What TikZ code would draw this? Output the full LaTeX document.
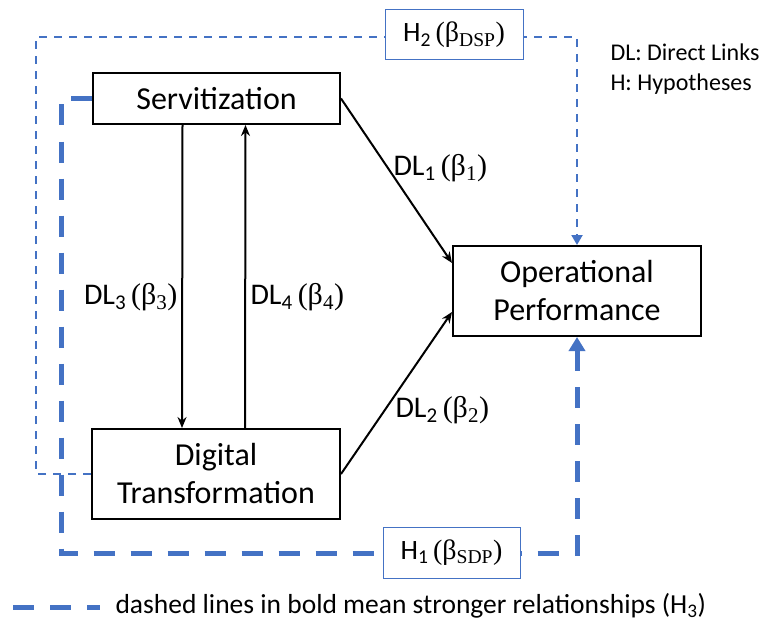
\documentclass[tikz,border=0pt]{standalone}
\usepackage{fontspec}
\setmainfont{Carlito}
\newfontfamily\grkfont{Liberation Serif}
\usetikzlibrary{arrows.meta}
\definecolor{hypblue}{RGB}{68,114,196}
\tikzset{box/.style={draw=black,line width=2pt,fill=white,align=center,
    font=\fontsize{32}{38}\selectfont},
  hbox/.style={draw=hypblue,line width=1pt,fill=white,
    font=\fontsize{28}{33}\selectfont},
  link/.style={-{Stealth[length=11pt,width=9pt]},line width=2pt},
  hyp/.style={draw=hypblue,line width=2pt,dash pattern=on 8pt off 7pt,
    -{Triangle[length=10pt,width=11pt]}},
  hypbold/.style={draw=hypblue,line width=5pt,dash pattern=on 21pt off 16pt},
  lab/.style={anchor=west,font=\fontsize{30}{36}\selectfont},
  note/.style={anchor=west,font=\fontsize{24}{29}\selectfont}}

\begin{document}
\begin{tikzpicture}[x=1pt,y=-1pt]
  \path (0,0) rectangle (765,623);
  % boxes
  \node[box,minimum width=247pt,minimum height=51pt] (serv) at (216.5,98.5) {Servitization};
  \node[box,minimum width=248pt,minimum height=90pt] (dt) at (216,474) {Digital\\Transformation};
  \node[box,minimum width=248pt,minimum height=90pt] (op) at (577,291) {Operational\\Performance};
  % corners of the hypothesis routes
  \coordinate (tl) at (36,37);
  \coordinate (tr) at (577,37);
  \coordinate (bl) at (61,553);
  \coordinate (br) at (577,553);
  % thin dashed route (H2)
  \draw[hyp] (dt.west) -| (tl) -- (tr) -- (op.north);
  % bold dashed route (H1)
  \draw[hypbold] (serv.west) -| (bl) -- (br) -- ([yshift=-14pt]op.south);
  \draw[hypblue,-{Triangle[length=14pt,width=16pt]},line width=5pt] ([yshift=-16pt]op.south) -- (op.south);
  \node[hbox,minimum width=138pt,minimum height=50pt] (h2) at (454,35) {H\textsubscript{2}\,{\grkfont(β\textsubscript{DSP})}};
  \node[hbox,minimum width=137pt,minimum height=51pt] (h1) at (451.5,552.5) {H\textsubscript{1}\,{\grkfont(β\textsubscript{SDP})}};
  % direct links
  \draw[link] (serv.east) -- ([yshift=28pt]op.west);
  \draw[link] (dt.east) -- ([yshift=-21pt]op.west);
  \draw[link] ([xshift=-34pt]serv.south) -- ([xshift=-34pt]dt.north);
  \draw[link] ([xshift=29pt]dt.north) -- ([xshift=29pt]serv.south);
  \node[lab] (dl1) at (390,168) {DL\textsubscript{1}\,{\grkfont(β\textsubscript{1})}};
  \node[lab] (dl2) at (392,410) {DL\textsubscript{2}\,{\grkfont(β\textsubscript{2})}};
  \node[lab,anchor=east] (dl3) at (181,297) {DL\textsubscript{3}\,{\grkfont(β\textsubscript{3})}};
  \node[lab] (dl4) at (247,297) {DL\textsubscript{4}\,{\grkfont(β\textsubscript{4})}};
  % legend
  \node[note] (ndl) at (607,52) {DL: Direct Links};
  \node[note] (nh) at (607,84) {H: Hypotheses};
  \coordinate (keya) at (13,607);
  \coordinate (keyb) at (100,607);
  \draw[hypbold] (keya) -- (keyb);
  \node[anchor=west,font=\fontsize{27.5}{33}\selectfont] (nkey) at (112,606) {dashed lines in bold mean stronger relationships (H\textsubscript{3})};
\end{tikzpicture}
\end{document}
